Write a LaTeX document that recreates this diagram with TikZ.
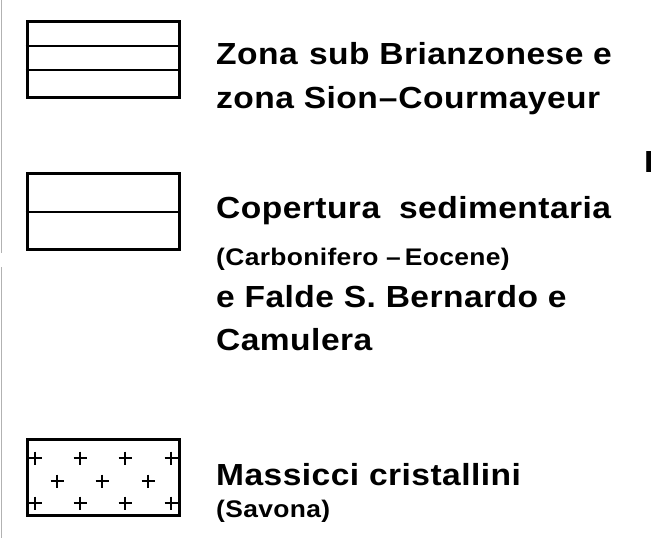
\documentclass[tikz,border=0pt]{standalone}
\usepackage{fontspec}
\setmainfont{Liberation Sans}[FakeStretch=1.1,LetterSpace=1.5]
\tikzset{
	legbox/.style={draw, line width=3pt, minimum width=152pt, minimum height=76pt, inner sep=0pt},
	legtext/.style={anchor=base west, inner sep=0pt, font=\bfseries\fontsize{30.5}{36}\selectfont},
	legsmall/.style={legtext, font=\bfseries\fontsize{24}{28}\selectfont},
}

\begin{document}
\begin{tikzpicture}[x=1pt,y=-1pt]
	\useasboundingbox (0,0) rectangle (651,538);
	% edge of the sheet
	\draw[gray!60, line width=1pt] (1.5,0) -- (1.5,253) (1.5,267) -- (1.5,538);

	% legend boxes
	\node[legbox] (zona) at (103,59) {};
	\node[legbox] (cop) at (103,211) {};
	\node[legbox] (mass) at (103,477) {};
	\foreach \y in {45.5,69.5} {
		\draw[line width=2pt] (zona.west |- 0,\y) -- (zona.east |- 0,\y);
	}
	\draw[line width=2pt] (cop.west |- 0,212) -- (cop.east |- 0,212);
	\foreach \x/\y in {35/458, 80/458, 125/458, 171/458, 57/481, 102/481, 148/481, 35/503, 80/503, 125/503, 171/503} {
		\draw[line width=1.2pt] (\x-6.5,\y) -- (\x+6.5,\y) (\x,\y-6.5) -- (\x,\y+6.5);
	}

	% legend texts
	\node[legtext] (zona1) at (216,64) {Zona\hspace{.05em} sub Brianzonese e};
	\node[legtext] (zona2) at (216,108) {zona Sion\kern1pt–\kern1pt Courmayeur};
	\node[legtext] (cop1) at (216,218) {Copertura\hspace{.3em} sedimentaria};
	\node[legsmall] (cop2) at (216,265) {(Carbonifero\ –\,Eocene)};
	\node[legtext] (cop3) at (216,307) {e Falde S. Bernardo e};
	\node[legtext] (cop4) at (216,350) {Camulera};
	\node[legtext] (mass1) at (216,485) {Massicci cristallini};
	\node[legsmall] (mass2) at (216,517) {(Savona)};
	\node[legtext] (pcut) at (644,172) {P};
\end{tikzpicture}
\end{document}
